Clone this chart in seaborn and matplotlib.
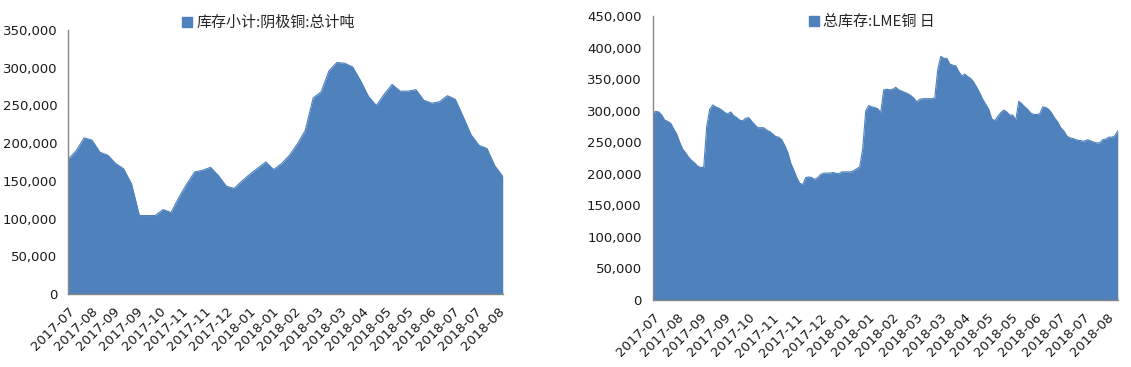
import numpy as np
import matplotlib
matplotlib.use("Agg")
import matplotlib.pyplot as plt
import seaborn as sns
from matplotlib.lines import Line2D
from matplotlib.ticker import FuncFormatter

# ---------------- data ----------------
shfe_label = "库存小计:阴极铜:总计吨"
shfe_values_k = [179, 190, 207, 204, 188, 184, 173, 166, 146, 104,
                 104, 104, 112, 108, 128, 146, 162, 164, 168, 157,
                 143, 140, 150, 159, 167, 175, 165, 173, 184, 199,
                 217, 260, 268, 296, 307, 306, 301, 283, 262, 250,
                 265, 278, 269, 269, 271, 257, 253, 255, 263, 258,
                 235, 211, 197, 193, 170, 156]
shfe_ticklabels = ["2017-07", "2017-08", "2017-09", "2017-09", "2017-10",
                   "2017-11", "2017-11", "2017-12", "2018-01", "2018-01",
                   "2018-02", "2018-03", "2018-03", "2018-04", "2018-05",
                   "2018-05", "2018-06", "2018-07", "2018-07", "2018-08"]

lme_label = "总库存:LME铜 日"
lme_values_k = [295, 299, 298, 293, 285, 283, 280, 271, 263, 250,
                239, 233, 226, 221, 217, 212, 210, 210, 275, 302,
                309, 306, 304, 301, 297, 295, 298, 292, 289, 285,
                284, 288, 289, 283, 278, 273, 273, 273, 269, 267,
                263, 259, 258, 254, 245, 234, 217, 206, 194, 185,
                183, 194, 195, 194, 191, 194, 199, 201, 201, 201,
                202, 201, 200, 203, 203, 203, 203, 205, 208, 211,
                240, 300, 308, 306, 305, 303, 297, 333, 334, 333,
                334, 337, 333, 331, 329, 327, 324, 320, 314, 318,
                319, 319, 319, 319, 320, 365, 386, 383, 383, 374,
                372, 371, 362, 355, 358, 354, 351, 345, 337, 328,
                318, 310, 302, 287, 284, 291, 297, 301, 298, 293,
                293, 285, 315, 311, 306, 302, 296, 294, 294, 295,
                306, 305, 302, 296, 288, 282, 273, 268, 260, 257,
                256, 254, 253, 252, 252, 254, 252, 250, 249, 249,
                254, 255, 258, 258, 260, 268]
lme_ticklabels = shfe_ticklabels

# ---------------- style ----------------
sns.set_style("white")
plt.rcParams["font.family"] = ["DejaVu Sans", "Noto Sans CJK SC"]
FILL = "#4F81BD"
AXC = "#868686"
TXT = "#1a1a1a"
CJK = ["Noto Sans CJK SC", "DejaVu Sans"]

fig = plt.figure(figsize=(11.31, 3.67), dpi=100)
ax1 = fig.add_axes([0.0604, 0.199, 0.3841, 0.719])
ax2 = fig.add_axes([0.5771, 0.1826, 0.4112, 0.7738])


def area(ax, vals_k, ymax, tick_end, ticklabels, label, legend_xy):
    y = np.array(vals_k, dtype=float) * 1000
    x = np.arange(len(y))
    sns.lineplot(x=x, y=y, ax=ax, color=FILL, linewidth=0.8)
    ax.fill_between(x, y, 0, color=FILL, linewidth=0)
    ax.set_xlim(0, len(y) - 1)
    ax.set_ylim(0, ymax)
    ax.set_yticks(np.arange(0, ymax + 1, 50000))
    ax.yaxis.set_major_formatter(FuncFormatter(lambda v, p: f"{int(v):,}"))
    ax.set_xticks(np.linspace(0, tick_end, len(ticklabels)))
    ax.set_xticklabels(ticklabels, rotation=45, ha="right", va="top",
                       rotation_mode="anchor")
    for s in ["top", "right"]:
        ax.spines[s].set_visible(False)
    for s in ["left", "bottom"]:
        ax.spines[s].set_color(AXC)
        ax.spines[s].set_linewidth(1.0)
    ax.tick_params(axis="both", which="major", direction="out", length=5,
                   width=0.8, color=AXC, labelcolor=TXT)
    ax.tick_params(axis="y", labelsize=9.5, pad=3)
    ax.tick_params(axis="x", labelsize=9.5, pad=3)
    ax.set_xlabel("")
    ax.set_ylabel("")
    h = Line2D([], [], marker="s", linestyle="none", markersize=7,
               markerfacecolor=FILL, markeredgecolor=FILL)
    fig.legend([h], [label], loc="center", bbox_to_anchor=legend_xy,
               frameon=False, prop={"family": CJK, "size": 10.8},
               handletextpad=0.1, handlelength=1.0, borderaxespad=0)


area(ax1, shfe_values_k, 350000, 54.4, shfe_ticklabels, shfe_label,
     (0.2365, 0.938))
area(ax2, lme_values_k, 450000, 151.4, lme_ticklabels, lme_label,
     (0.770, 0.940))

fig.savefig("out.png", dpi=100)
